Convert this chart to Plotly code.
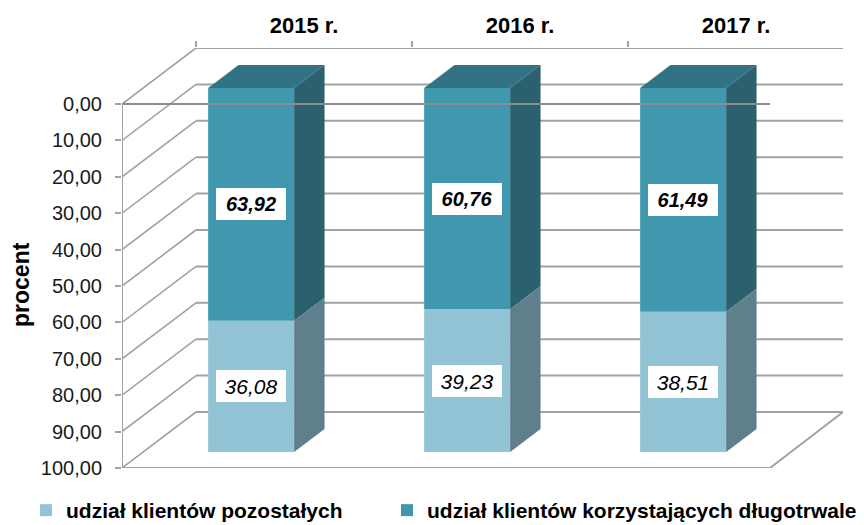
import plotly.graph_objects as go

years = ["2015 r.", "2016 r.", "2017 r."]
long_term = [63.92, 60.76, 61.49]
others = [36.08, 39.23, 38.51]
y_ticks = [0, 10, 20, 30, 40, 50, 60, 70, 80, 90, 100]
y_labels = ["0,00", "10,00", "20,00", "30,00", "40,00", "50,00", "60,00", "70,00", "80,00", "90,00", "100,00"]
name_others = "udział klientów pozostałych"
name_long = "udział klientów korzystających długotrwale"

# oblique projection of the 3-D box, in axis units
W, H = 864, 525
L, R, T, B = 122, 843, 48, 468
px_x = 216.0
px_y = 3.64
DX = 74 / px_x
DY = 56 / px_y
XMAX = (R - L) / px_x
YMIN = -DY
BAR_W = 86 / px_x
D0, D1 = 16 / 56, 39 / 56

GRID = "#a2a2a2"
AXIS = "#8c8c8c"
C_LONG, C_LONG_SIDE, C_LONG_TOP = "#4098ae", "#2b616f", "#317385"
C_OTH, C_OTH_SIDE = "#93c4d6", "#5f7f8c"

fig = go.Figure()
n = len(years)
cx = [i + 0.5 + D0 * DX for i in range(n)]
sh0 = D0 * DY

fig.add_bar(x=cx, y=others, base=[v - sh0 for v in long_term], width=BAR_W,
            marker=dict(color=C_OTH, line_width=0), name=name_others, legend="legend")
fig.add_bar(x=cx, y=long_term, base=[-sh0] * n, width=BAR_W,
            marker=dict(color=C_LONG, line_width=0), name=name_long, legend="legend2")


def face(xs, ys, color):
    fig.add_scatter(x=xs, y=ys, mode="none", fill="toself", fillcolor=color,
                    showlegend=False, hoverinfo="skip", cliponaxis=False)


ddx = (D1 - D0) * DX
ddy = (D1 - D0) * DY
for i in range(n):
    xr = cx[i] + BAR_W / 2
    xl = cx[i] - BAR_W / 2
    a = -sh0
    m = long_term[i] - sh0
    b = long_term[i] + others[i] - sh0
    face([xr, xr + ddx, xr + ddx, xr, xr], [a, a - ddy, m - ddy, m, a], C_LONG_SIDE)
    face([xr, xr + ddx, xr + ddx, xr, xr], [m, m - ddy, b - ddy, b, m], C_OTH_SIDE)
    face([xl, xl + ddx, xr + ddx, xr, xl], [a, a - ddy, a - ddy, a, a], C_LONG_TOP)

# walls: gridlines behind the bars
for v in y_ticks:
    fig.add_shape(type="line", layer="below", xref="x", yref="y", x0=0, y0=v, x1=DX, y1=v - DY,
                  line=dict(color=GRID, width=1.6))
    fig.add_shape(type="line", layer="below", xref="x", yref="y", x0=DX, y0=v - DY, x1=XMAX, y1=v - DY,
                  line=dict(color=GRID, width=2))
# floor and the line at zero, left axis
fig.add_shape(type="line", layer="below", xref="x", yref="y", x0=0, y0=100, x1=3, y1=100,
              line=dict(color=GRID, width=2))
fig.add_shape(type="line", layer="below", xref="x", yref="y", x0=3, y0=100, x1=XMAX, y1=100 - DY,
              line=dict(color=GRID, width=2))
fig.add_shape(type="line", layer="above", xref="x", yref="y", x0=0, y0=0, x1=3, y1=0,
              line=dict(color=AXIS, width=2))
fig.add_shape(type="line", layer="above", xref="x", yref="y", x0=0, y0=0, x1=0, y1=100,
              line=dict(color=GRID, width=2))

# value boxes
for i in range(n):
    fig.add_annotation(x=cx[i], y=long_term[i] / 2 - sh0, text=f"<b><i>{long_term[i]:.2f}</i></b>".replace(".", ","),
                       showarrow=False, bgcolor="white", width=70, height=32, borderpad=0, borderwidth=0,
                       font=dict(family="Liberation Sans", size=20, color="black"))
    fig.add_annotation(x=cx[i], y=long_term[i] + others[i] / 2 - sh0,
                       text=f"<i>{others[i]:.2f}</i>".replace(".", ","),
                       showarrow=False, bgcolor="white", width=70, height=32, borderpad=0, borderwidth=0,
                       font=dict(family="Liberation Sans", size=21, color="black"))

fig.add_annotation(xref="paper", yref="paper", x=-101 / (R - L), y=(B - 285) / (B - T),
                   xanchor="center", yanchor="middle",
                   text="<b>procent</b>", textangle=-90, showarrow=False,
                   font=dict(family="Liberation Sans", size=23, color="black"))

legend_font = dict(family="Liberation Sans", size=21, color="black", weight="bold")
fig.update_layout(
    width=W, height=H, margin=dict(l=L, r=W - R, t=T, b=H - B),
    paper_bgcolor="white", plot_bgcolor="white", barmode="overlay",
    font=dict(family="Liberation Sans", color="#1a1a1a"),
    xaxis=dict(range=[0, XMAX], side="top", showgrid=False, zeroline=False, showline=False,
               tickmode="array", tickvals=[i + 0.5 + DX for i in range(n)], ticktext=[f"<b>{y}</b>" for y in years],
               ticks="", ticklabelstandoff=10, tickfont=dict(size=22, color="black"),
               minor=dict(tickmode="array", tickvals=[i + DX for i in range(n + 1)], ticks="outside",
                          ticklen=6, tickwidth=1.5, tickcolor=GRID)),
    yaxis=dict(range=[100, YMIN], showgrid=False, zeroline=False, showline=False,
               tickmode="array", tickvals=y_ticks, ticktext=y_labels, ticks="outside", ticklen=6,
               tickwidth=1.5, tickcolor=GRID, ticklabelstandoff=9, tickfont=dict(size=20, color="#1a1a1a")),
    legend=dict(orientation="h", xref="container", yref="container", x=26 / W, y=35 / H,
                xanchor="left", yanchor="top", font=legend_font, bgcolor="rgba(0,0,0,0)"),
    legend2=dict(orientation="h", xref="container", yref="container", x=387 / W, y=35 / H,
                 xanchor="left", yanchor="top", font=legend_font, bgcolor="rgba(0,0,0,0)"),
)
fig.write_html("out.html", config={"displayModeBar": False}, post_script="document.body.style.margin='0';")
